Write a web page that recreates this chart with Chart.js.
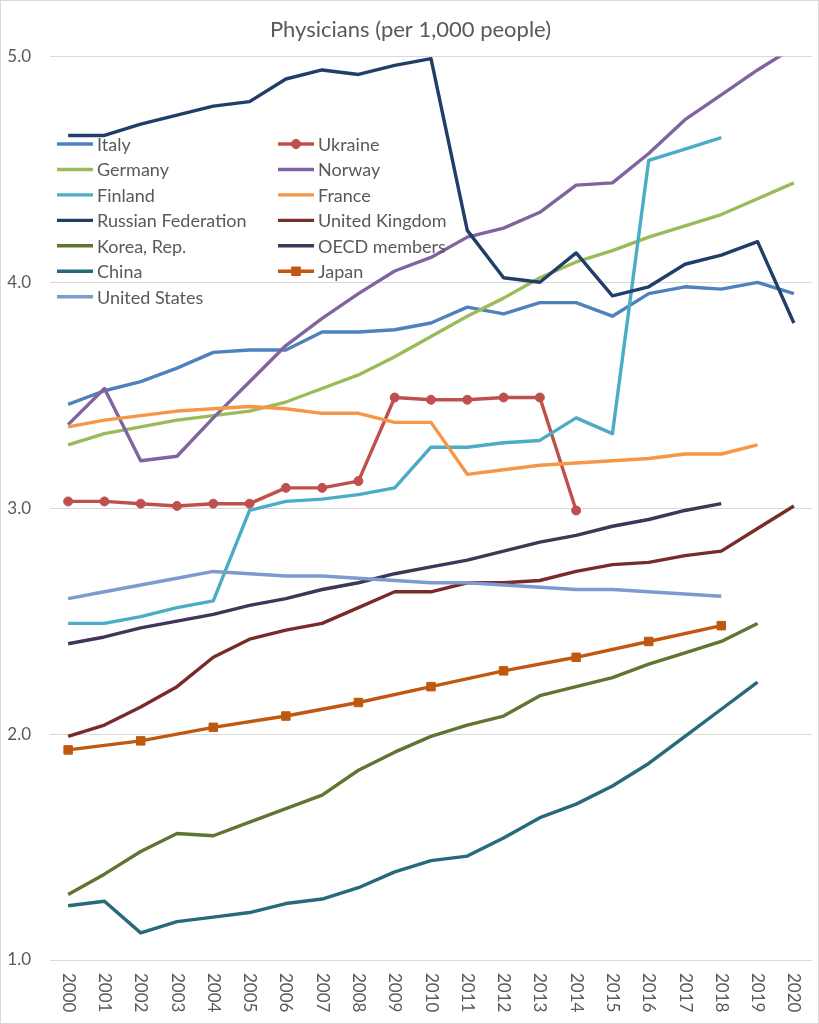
<!DOCTYPE html>
<html>
<head>
<meta charset="utf-8">
<title>Physicians (per 1,000 people)</title>
<script src="https://cdn.jsdelivr.net/npm/chart.js@4.4.1/dist/chart.umd.min.js"></script>
<style>
  html, body { margin: 0; padding: 0; background: #fff; }
  #wrap { position: relative; width: 819px; height: 1024px; }
  #frame { position: absolute; left: 0; top: 0; width: 819px; height: 1024px;
           box-sizing: border-box; border: 1px solid #d9d9d9; pointer-events: none; }
</style>
</head>
<body>
<div id="wrap">
  <canvas id="lineChart" width="819" height="1024"></canvas>
  <div id="frame"></div>
</div>
<script>
// Data
const years = ['2000', '2001', '2002', '2003', '2004', '2005', '2006', '2007', '2008', '2009', '2010',
               '2011', '2012', '2013', '2014', '2015', '2016', '2017', '2018', '2019', '2020'];

const italy   = [3.46, 3.52, 3.56, 3.62, 3.69, 3.70, 3.70, 3.78, 3.78, 3.79, 3.82, 3.89, 3.86, 3.91, 3.91, 3.85, 3.95, 3.98, 3.97, 4.00, 3.95];
const ukraine = [3.03, 3.03, 3.02, 3.01, 3.02, 3.02, 3.09, 3.09, 3.12, 3.49, 3.48, 3.48, 3.49, 3.49, 2.99];
const germany = [3.28, 3.33, 3.36, 3.39, 3.41, 3.43, 3.47, 3.53, 3.59, 3.67, 3.76, 3.85, 3.93, 4.02, 4.09, 4.14, 4.20, 4.25, 4.30, 4.37, 4.44];
const norway  = [3.37, 3.53, 3.21, 3.23, 3.40, 3.56, 3.72, 3.84, 3.95, 4.05, 4.11, 4.20, 4.24, 4.31, 4.43, 4.44, 4.57, 4.72, 4.83, 4.94, 5.04];
const finland = [2.49, 2.49, 2.52, 2.56, 2.59, 2.99, 3.03, 3.04, 3.06, 3.09, 3.27, 3.27, 3.29, 3.30, 3.40, 3.33, 4.54, 4.59, 4.64];
const france  = [3.36, 3.39, 3.41, 3.43, 3.44, 3.45, 3.44, 3.42, 3.42, 3.38, 3.38, 3.15, 3.17, 3.19, 3.20, 3.21, 3.22, 3.24, 3.24, 3.28];
const russia  = [4.65, 4.65, 4.70, 4.74, 4.78, 4.80, 4.90, 4.94, 4.92, 4.96, 4.99, 4.23, 4.02, 4.00, 4.13, 3.94, 3.98, 4.08, 4.12, 4.18, 3.82];
const uk      = [1.99, 2.04, 2.12, 2.21, 2.34, 2.42, 2.46, 2.49, 2.56, 2.63, 2.63, 2.67, 2.67, 2.68, 2.72, 2.75, 2.76, 2.79, 2.81, 2.91, 3.01];
const korea   = [1.29, 1.38, 1.48, 1.56, 1.55, 1.61, 1.67, 1.73, 1.84, 1.92, 1.99, 2.04, 2.08, 2.17, 2.21, 2.25, 2.31, 2.36, 2.41, 2.49];
const oecd    = [2.40, 2.43, 2.47, 2.50, 2.53, 2.57, 2.60, 2.64, 2.67, 2.71, 2.74, 2.77, 2.81, 2.85, 2.88, 2.92, 2.95, 2.99, 3.02];
const china   = [1.24, 1.26, 1.12, 1.17, 1.19, 1.21, 1.25, 1.27, 1.32, 1.39, 1.44, 1.46, 1.54, 1.63, 1.69, 1.77, 1.87, 1.99, 2.11, 2.23];
const japan   = [1.93, null, 1.97, null, 2.03, null, 2.08, null, 2.14, null, 2.21, null, 2.28, null, 2.34, null, 2.41, null, 2.48];
const usa     = [2.60, 2.63, 2.66, 2.69, 2.72, 2.71, 2.70, 2.70, 2.69, 2.68, 2.67, 2.67, 2.66, 2.65, 2.64, 2.64, 2.63, 2.62, 2.61];

const FONT = 'Lato, "Open Sans", sans-serif';
const TEXT = '#595959';

// series: label, data, colour, marker
const series = [
    ['Italy', italy, '#4f81bd', null],
    ['Ukraine', ukraine, '#c0504d', 'circle'],
    ['Germany', germany, '#9bbb59', null],
    ['Norway', norway, '#8064a2', null],
    ['Finland', finland, '#4bacc6', null],
    ['France', france, '#f79646', null],
    ['Russian Federation', russia, '#213e68', null],
    ['United Kingdom', uk, '#772c2a', null],
    ['Korea, Rep.', korea, '#5f7530', null],
    ['OECD members', oecd, '#3f3658', null],
    ['China', china, '#276a7c', null],
    ['Japan', japan, '#c0590f', 'rect'],
    ['United States', usa, '#7c9cd0', null]
];

const datasets = series.map(([label, data, color, marker], i) => ({
    label: label,
    data: data,
    borderColor: color,
    backgroundColor: color,
    borderWidth: 3.4,
    tension: 0,
    spanGaps: true,
    pointStyle: marker || 'circle',
    pointRadius: marker === 'rect' ? 6 : (marker ? 4.5 : 0),
    pointBorderWidth: 1,
    borderJoinStyle: 'round',
    order: series.length - i // later series on top, like the spreadsheet
}));

// Legend drawn inside the plot area, two columns
const insideLegend = {
    id: 'insideLegend',
    afterDatasetsDraw(chart) {
        const { ctx } = chart;
        ctx.save();
        ctx.font = '18px ' + FONT;
        ctx.textBaseline = 'middle';
        ctx.textAlign = 'left';
        chart.data.datasets.forEach((ds, i) => {
            const x = (i % 2) ? 278 : 57;
            const y = 144 + Math.floor(i / 2) * 25.45;
            ctx.strokeStyle = ds.borderColor;
            ctx.lineWidth = ds.borderWidth;
            ctx.beginPath();
            ctx.moveTo(x, y);
            ctx.lineTo(x + 36, y);
            ctx.stroke();
            if (ds.pointRadius > 0) {
                ctx.fillStyle = ds.backgroundColor;
                ctx.lineWidth = 1;
                Chart.helpers.drawPoint(ctx, { pointStyle: ds.pointStyle, radius: ds.pointRadius, borderWidth: 1, rotation: 0 }, x + 18, y);
                ctx.fill();
            }
            ctx.fillStyle = TEXT;
            ctx.fillText(ds.label, x + 40, y + 1);
        });
        ctx.restore();
    }
};

// Year labels turned 90 degrees clockwise, reading top to bottom
const yearLabels = {
    id: 'yearLabels',
    afterDraw(chart) {
        const { ctx } = chart;
        const xs = chart.scales.x;
        ctx.save();
        ctx.font = '17px ' + FONT;
        ctx.fillStyle = TEXT;
        ctx.textAlign = 'left';
        ctx.textBaseline = 'middle';
        chart.data.labels.forEach((lab, i) => {
            ctx.save();
            ctx.translate(xs.getPixelForValue(i), chart.chartArea.bottom + 13);
            ctx.rotate(Math.PI / 2);
            ctx.fillText(lab, 0, 0);
            ctx.restore();
        });
        ctx.restore();
    }
};

new Chart(document.getElementById('lineChart'), {
    type: 'line',
    data: { labels: years, datasets: datasets },
    options: {
        responsive: false,
        animation: false,
        devicePixelRatio: 1,
        layout: { padding: { left: 3, right: 1, top: 0, bottom: 0 } },
        scales: {
            x: {
                offset: true,
                grid: { display: false },
                border: { display: false },
                ticks: { display: false },
                afterFit: (s) => { s.height = 64; }
            },
            y: {
                min: 1,
                max: 5,
                ticks: {
                    stepSize: 1,
                    color: TEXT,
                    padding: 19,
                    font: { family: FONT, size: 17 },
                    callback: (v) => v.toFixed(1)
                },
                grid: { color: '#d9d9d9', lineWidth: 1, drawTicks: false },
                border: { display: false },
                afterFit: (s) => { s.width = 47; }
            }
        },
        plugins: {
            legend: { display: false },
            tooltip: { enabled: false },
            title: {
                display: true,
                text: 'Physicians (per 1,000 people)',
                color: TEXT,
                font: { family: FONT, size: 22, weight: 'normal' },
                padding: { top: 17, bottom: 13 }
            }
        }
    },
    plugins: [insideLegend, yearLabels]
});
</script>
</body>
</html>
